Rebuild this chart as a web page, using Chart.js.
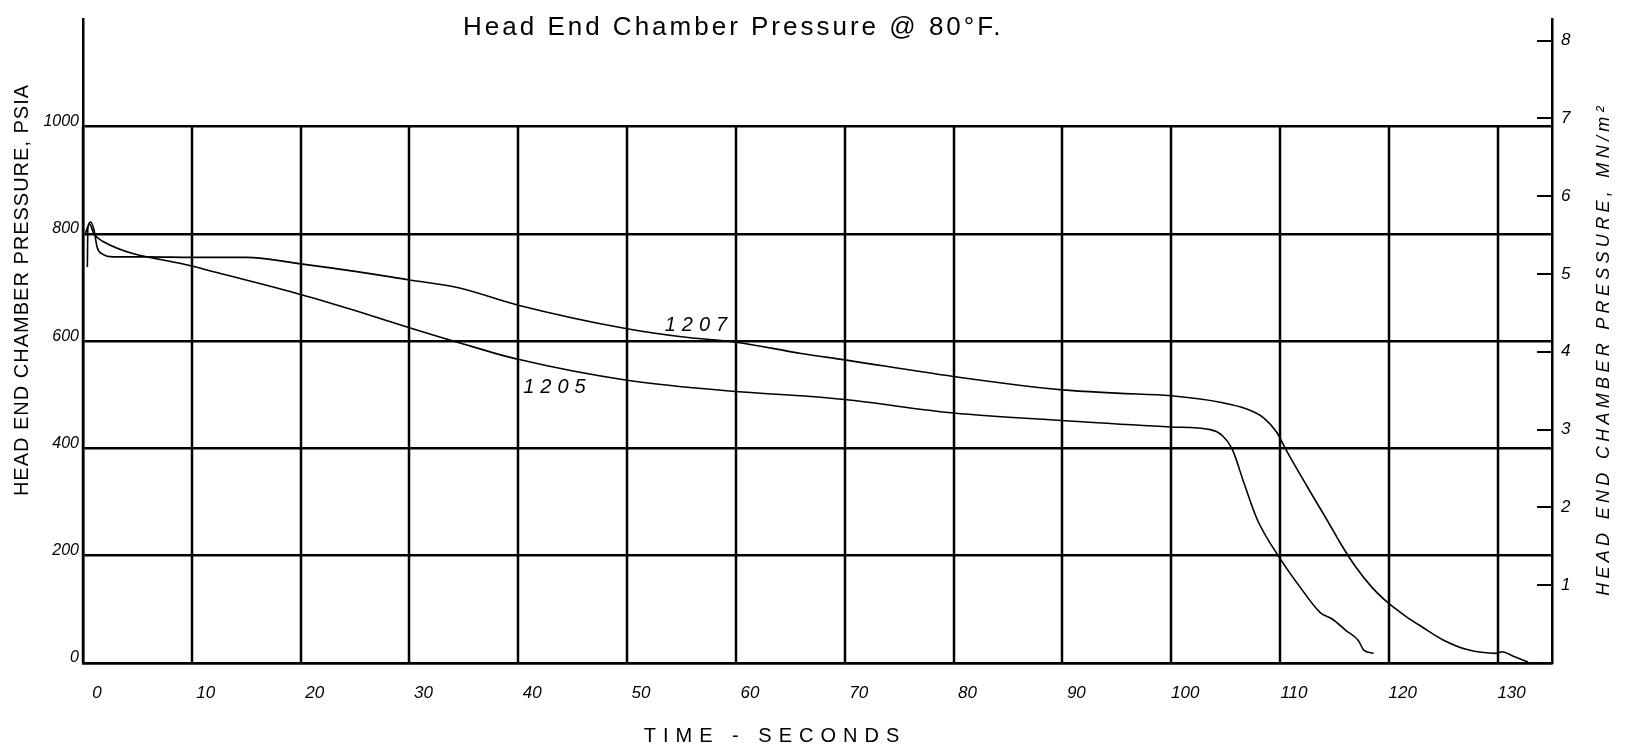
<!DOCTYPE html>
<html>
<head>
<meta charset="utf-8">
<title>Head End Chamber Pressure @ 80°F.</title>
<script src="https://cdn.jsdelivr.net/npm/chart.js@4.4.1/dist/chart.umd.min.js"></script>
<style>
  html, body { margin: 0; padding: 0; background: #fff; }
  #wrap { width: 1632px; height: 752px; }
</style>
</head>
<body>
<div id="wrap"><canvas id="pressureChart"></canvas></div>
<script>
// motor 1205 - time (s) and head end pressure (psia)
const time1205 = [0.2, 0.6, 1.0, 1.8, 10, 20, 25, 30, 34.4, 40, 50, 60, 66, 70, 80, 90, 100, 103.6, 104.7, 105.6, 106.7, 107.9, 110, 111.9, 113.7, 114.8, 116.1, 117.2, 117.7, 118.6];
const psia1205 = [800, 818, 800, 786, 740, 687, 657, 625, 598, 566, 527, 506, 498, 491, 466, 452, 440, 435, 424, 399, 335, 268, 195, 140, 94, 82, 60, 42, 24, 18];

// motor 1207
const time1207 = [0.4, 0.45, 0.7, 1.0, 1.3, 1.8, 2.8, 6, 10, 15, 20, 25, 30, 34.4, 40, 50, 55, 60, 66, 70, 80, 90, 95, 100, 104.5, 107, 108.5, 109.7, 110.6, 112.5, 114.8, 115.5, 117, 118.5, 120, 121.5, 123, 125, 127.2, 129.9, 130.4, 131.5, 132.8];
const psia1207 = [738, 812, 822, 808, 775, 762, 757, 757, 756, 756, 744, 730, 714, 700, 667, 623, 608, 598, 577, 565, 534, 509, 503, 498, 486, 473, 457, 430, 396, 329, 250, 225, 178, 140, 111, 88, 68, 43, 25, 18, 21, 12, 2];

// axis ticks
const timeTicks = [0, 10, 20, 30, 40, 50, 60, 70, 80, 90, 100, 110, 120, 130];
const psiaTicks = [0, 200, 400, 600, 800, 1000];
const mnTicks = [1, 2, 3, 4, 5, 6, 7, 8];

// curve names, placed at (time, psia)
const curveNames = ['1207', '1205'];
const curveNameAt = [[56.6, 630], [43.6, 513]];

const PSI_TO_MN = 0.006895;
const PSIA_MAX = 1200;
const TIME_MAX = 135;

const handFont = '"Liberation Sans", Arial, sans-serif';

function toPoints(xs, ys) {
  return xs.map((t, i) => ({ x: t, y: ys[i] }));
}

const paperPlugin = {
  id: 'paper',
  beforeDatasetsDraw(chart) {
    const { ctx, chartArea, scales } = chart;
    const x = scales.x, y = scales.y, y2 = scales.y2;
    ctx.save();
    ctx.strokeStyle = '#000';
    ctx.lineWidth = 2.5;
    // vertical grid only runs up to the 1000 line
    const top = y.getPixelForValue(psiaTicks[psiaTicks.length - 1]);
    const bottom = y.getPixelForValue(0);
    ctx.beginPath();
    timeTicks.forEach(t => {
      const px = Math.round(x.getPixelForValue(t));
      ctx.moveTo(px, top);
      ctx.lineTo(px, bottom);
    });
    ctx.stroke();
    // MN/m2 ticks point inward from the right axis
    ctx.lineWidth = 2;
    ctx.beginPath();
    mnTicks.forEach(v => {
      const py = Math.round(y2.getPixelForValue(v));
      ctx.moveTo(chartArea.right - 15, py);
      ctx.lineTo(chartArea.right, py);
    });
    ctx.stroke();
    ctx.restore();
  },
  afterDraw(chart) {
    const { ctx, scales } = chart;
    ctx.save();
    ctx.fillStyle = '#000';
    ctx.textBaseline = 'middle';

    ctx.font = '26px ' + handFont;
    ctx.textAlign = 'left';
    ctx.letterSpacing = '3px';
    ctx.fillText('Head End Chamber Pressure @ 80°F.', 463, 28);

    ctx.font = '20px ' + handFont;
    ctx.textAlign = 'center';
    ctx.letterSpacing = '7px';
    ctx.fillText('TIME - SECONDS', 775, 736);

    ctx.letterSpacing = '1px';
    ctx.font = '20px ' + handFont;
    ctx.save();
    ctx.translate(22, 290);
    ctx.rotate(-Math.PI / 2);
    ctx.fillText('HEAD END CHAMBER PRESSURE, PSIA', 0, 0);
    ctx.restore();

    ctx.letterSpacing = '4.3px';
    ctx.font = 'italic 18px ' + handFont;
    ctx.save();
    ctx.translate(1604, 349);
    ctx.rotate(-Math.PI / 2);
    ctx.fillText('HEAD END CHAMBER PRESSURE, MN/m²', 0, 0);
    ctx.restore();

    ctx.letterSpacing = '6px';
    ctx.font = 'italic 20px ' + handFont;
    curveNames.forEach((name, i) => {
      const px = scales.x.getPixelForValue(curveNameAt[i][0]);
      const py = scales.y.getPixelForValue(curveNameAt[i][1]);
      ctx.fillText(name, px, py);
    });
    ctx.restore();
  }
};

const lineStyle = {
  borderColor: '#000',
  borderWidth: 1.6,
  pointRadius: 0,
  fill: false,
  cubicInterpolationMode: 'monotone'
};

const pressureChart = new Chart(document.getElementById('pressureChart'), {
  type: 'line',
  data: {
    datasets: [
      Object.assign({ label: '1205', data: toPoints(time1205, psia1205) }, lineStyle),
      Object.assign({ label: '1207', data: toPoints(time1207, psia1207) }, lineStyle)
    ]
  },
  options: {
    responsive: true,
    maintainAspectRatio: false,
    animation: false,
    layout: { padding: { top: 8, left: 0, right: 0, bottom: 0 } },
    plugins: {
      legend: { display: false },
      tooltip: { enabled: false },
      title: { display: false }
    },
    scales: {
      x: {
        type: 'linear',
        min: 0,
        max: TIME_MAX,
        afterBuildTicks: s => { s.ticks = timeTicks.map(v => ({ value: v })); },
        afterFit: s => { s.height = 89; },
        grid: { display: false },
        border: { display: true, color: '#000', width: 2.5 },
        ticks: {
          color: '#000',
          padding: 12,
          labelOffset: 14,
          maxRotation: 0,
          autoSkip: false,
          callback: v => String(v),
          font: { family: handFont, size: 17, style: 'italic' }
        }
      },
      y: {
        type: 'linear',
        position: 'left',
        min: 0,
        max: PSIA_MAX,
        afterBuildTicks: s => { s.ticks = psiaTicks.map(v => ({ value: v })); },
        afterFit: s => { s.width = 83; },
        grid: { color: '#000', lineWidth: 2.5, drawTicks: false },
        border: { display: true, color: '#000', width: 2.5 },
        ticks: {
          color: '#000',
          padding: 4,
          labelOffset: -5,
          callback: v => String(v),
          font: { family: handFont, size: 16, style: 'italic' }
        }
      },
      y2: {
        type: 'linear',
        position: 'right',
        min: 0,
        max: PSIA_MAX * PSI_TO_MN,
        afterBuildTicks: s => { s.ticks = mnTicks.map(v => ({ value: v })); },
        afterFit: s => { s.width = 80; },
        grid: { drawOnChartArea: false, drawTicks: false, color: '#000', lineWidth: 2 },
        border: { display: true, color: '#000', width: 2.5 },
        ticks: {
          color: '#000',
          padding: 9,
          callback: v => String(v),
          font: { family: handFont, size: 17, style: 'italic' }
        }
      }
    }
  },
  plugins: [paperPlugin]
});
</script>
</body>
</html>
